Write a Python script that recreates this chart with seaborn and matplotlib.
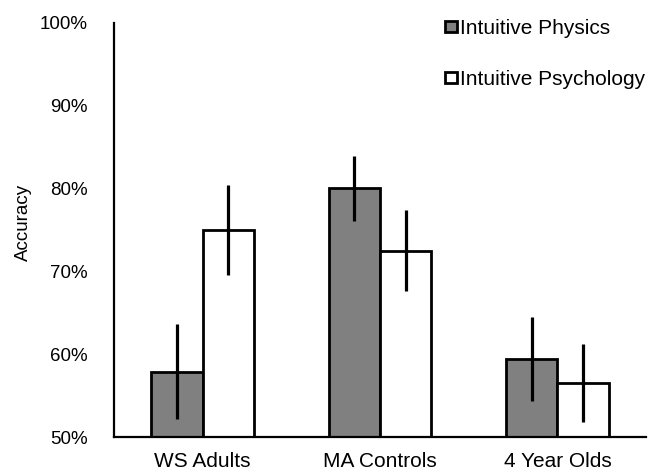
import matplotlib
matplotlib.use("Agg")
import matplotlib.pyplot as plt
import pandas as pd
import seaborn as sns

groups = ["WS Adults", "MA Controls", "4 Year Olds"]
tasks = ["Intuitive Physics", "Intuitive Psychology"]
physics = [57.9, 80.0, 59.4]
psychology = [75.0, 72.5, 56.5]
physics_err = [5.75, 3.95, 5.1]
psychology_err = [5.45, 4.9, 4.7]
yticks = [50, 60, 70, 80, 90, 100]

sns.set_theme(style="white", rc={"text.color": "black", "axes.labelcolor": "black",
                                 "xtick.color": "black", "ytick.color": "black"})
plt.rcParams["font.family"] = ["Liberation Sans", "DejaVu Sans"]

df = pd.DataFrame({
    "group": groups * 2,
    "task": [tasks[0]] * 3 + [tasks[1]] * 3,
    "acc": physics + psychology,
    "err": physics_err + psychology_err,
})

fig = plt.figure(figsize=(6.48, 4.73), dpi=100)
ax = fig.add_axes([0.176, 0.076, 0.821, 0.876])
sns.barplot(data=df, x="group", y="acc", hue="task", order=groups, hue_order=tasks,
            palette=["#808080", "white"], edgecolor="black", linewidth=2,
            width=0.58, errorbar=None, ax=ax)

# error bars centred on each bar, in hue order
bars = [p for p in ax.patches if p.get_height() > 0][:6]
for bar, (_, row) in zip(bars, df.iterrows()):
    xc = bar.get_x() + bar.get_width() / 2
    ax.errorbar(xc, row["acc"], yerr=row["err"], color="black", lw=2.3, capsize=0)

ax.set_ylim(50, 100)
ax.set_xlim(-0.5, 2.5)
ax.set_yticks(yticks)
ax.set_yticklabels([f"{t}%" for t in yticks])
ax.tick_params(axis="y", length=0, pad=19, labelsize=13.5)
ax.tick_params(axis="x", length=0, pad=11, labelsize=15)
ax.set_xlabel("")
ax.set_ylabel("Accuracy", fontsize=13.5)
ax.yaxis.set_label_coords(-0.155, 0.517)
ax.spines[["top", "right"]].set_visible(False)
for s in ["left", "bottom"]:
    ax.spines[s].set_color("black")
    ax.spines[s].set_linewidth(1.6)

ax.legend(loc="upper right", bbox_to_anchor=(645 / 648, 1 - 19 / 473), bbox_transform=fig.transFigure,
          frameon=False, fontsize=15, borderpad=0, borderaxespad=0,
          handlelength=0.55, handleheight=0.45, handletextpad=0.15, labelspacing=1.55)

fig.savefig("out.png", dpi=100)
